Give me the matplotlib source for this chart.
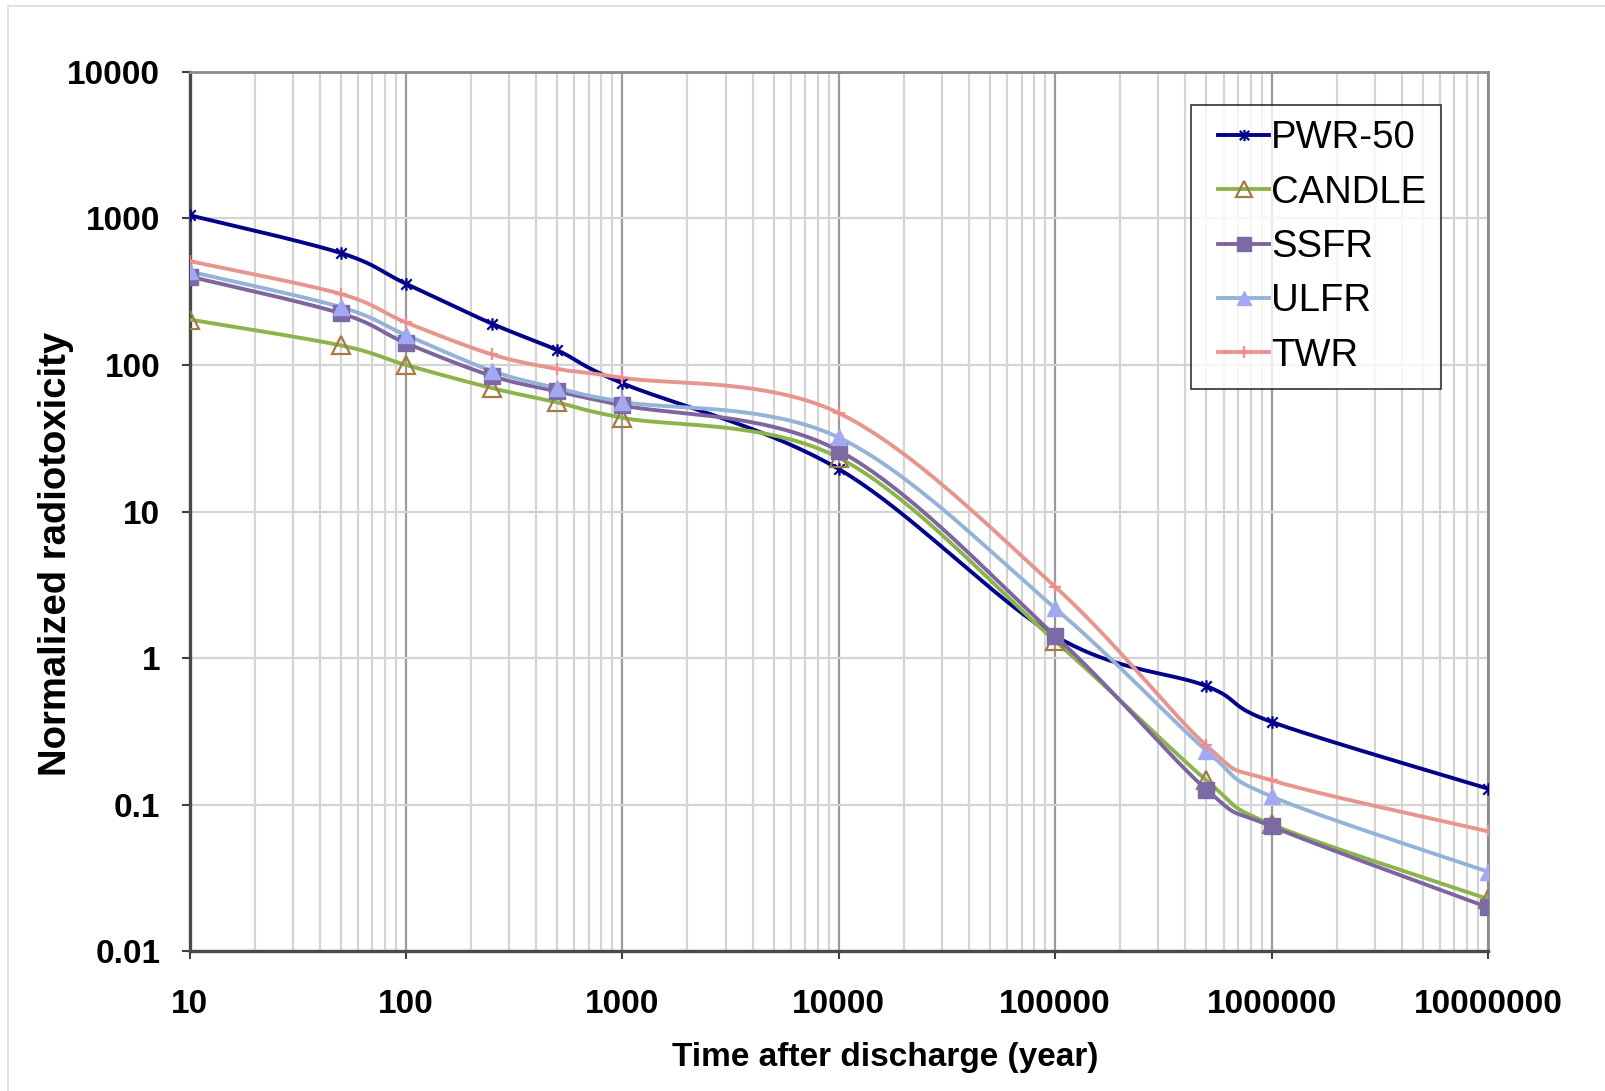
"""
Normalized radiotoxicity of discharged fuel versus time after discharge,
for five reactor concepts (Excel-style smoothed log-log line chart).
"""

import numpy as np
import matplotlib
matplotlib.use("Agg")
import matplotlib.pyplot as plt
from matplotlib.path import Path
from matplotlib.lines import Line2D
from matplotlib.legend_handler import HandlerLine2D

# ---- data ----
years = [10, 50, 100, 250, 500, 1000, 10000, 100000, 500000, 1000000, 10000000]

pwr50 = [1050, 580, 358, 191, 126, 75, 19.5, 1.42, 0.645, 0.368, 0.129]
candle = [204, 136, 100, 69.5, 55.5, 43.6, 23.3, 1.31, 0.147, 0.0736, 0.0228]
ssfr = [401, 225, 141, 84, 66, 53, 26, 1.42, 0.127, 0.0713, 0.020]
ulfr = [434, 248, 160, 91, 69.5, 56, 32, 2.19, 0.234, 0.114, 0.035]
twr = [511, 305, 195, 118, 94, 81.7, 47, 3.07, 0.254, 0.147, 0.066]

series_names = ["PWR-50", "CANDLE", "SSFR", "ULFR", "TWR"]

x_ticks = [10, 100, 1000, 10000, 100000, 1000000, 10000000]
y_ticks = [0.01, 0.1, 1, 10, 100, 1000, 10000]


def smooth_loglog(x, y, n=40):
    """Excel-like smoothed line: Catmull-Rom Bezier through points in log space."""
    lx, ly = np.log10(x), np.log10(y)
    P = np.column_stack([lx, ly])
    pts = []
    t = np.linspace(0, 1, n)
    for i in range(len(P) - 1):
        p0 = P[i - 1] if i > 0 else P[i]
        p1, p2 = P[i], P[i + 1]
        p3 = P[i + 2] if i + 2 < len(P) else P[i + 1]
        c1 = p1 + (p2 - p0) / 6.0
        c2 = p2 - (p3 - p1) / 6.0
        seg = ((1 - t) ** 3)[:, None] * p1 + (3 * (1 - t) ** 2 * t)[:, None] * c1 \
            + (3 * (1 - t) * t ** 2)[:, None] * c2 + (t ** 3)[:, None] * p2
        pts.append(seg if i == 0 else seg[1:])
    pts = np.vstack(pts)
    return 10 ** pts[:, 0], 10 ** pts[:, 1]


class IndentedLineHandler(HandlerLine2D):
    """Legend line that starts a bit in from the box edge, like Excel's."""

    def __init__(self, indent=0.2, **kw):
        super().__init__(**kw)
        self.indent = indent

    def get_xdata(self, legend, xdescent, ydescent, width, height, fontsize):
        x0 = -xdescent + width * self.indent
        x1 = -xdescent + width
        return np.array([x0, x1]), np.array([(x0 + x1) / 2])


# Excel "star" marker: an x with a vertical bar
star = Path([(-1, -1), (1, 1), (-1, 1), (1, -1), (0, -1.2), (0, 1.2)],
            [Path.MOVETO, Path.LINETO, Path.MOVETO, Path.LINETO, Path.MOVETO, Path.LINETO])

styles = [
    dict(color="#00038A", marker=star, ms=9, mfc="#00038A", mec="#00038A", mew=1.6),
    dict(color="#8DB44B", marker="^", ms=13, mfc="none", mec="#A57A45", mew=1.6),
    dict(color="#7E65A0", marker="s", ms=11, mfc="#7C6AA6", mec="#7C6AA6", mew=1.0),
    dict(color="#95B3D7", marker="^", ms=11, mfc="#A3A8F2", mec="#A3A8F2", mew=1.0),
    dict(color="#E6958F", marker="+", ms=9, mfc="#F08C8C", mec="#F08C8C", mew=1.6),
]

plt.rcParams["font.family"] = ["Liberation Sans", "DejaVu Sans"]

fig = plt.figure(figsize=(16.06, 10.91), dpi=100)
ax = fig.add_axes([0.118, 0.1279, 0.8085, 0.8064])

all_series = [pwr50, candle, ssfr, ulfr, twr]
handles = []
for name, vals, st in zip(series_names, all_series, styles):
    sx, sy = smooth_loglog(years, vals)
    ax.plot(sx, sy, color=st["color"], lw=2.8, zorder=3)
    ax.plot(years, vals, ls="none", marker=st["marker"], ms=st["ms"],
            mfc=st["mfc"], mec=st["mec"], mew=st["mew"], zorder=4)
    handles.append(Line2D([], [], color=st["color"], lw=2.8, marker=st["marker"],
                          ms=st["ms"] * 0.9, mfc=st["mfc"], mec=st["mec"],
                          mew=st["mew"], label=name))

ax.set_xscale("log")
ax.set_yscale("log")
ax.set_xlim(10, 1e7)
ax.set_ylim(0.01, 10000)

ax.set_xticks(x_ticks)
ax.set_xticklabels([str(v) for v in x_ticks])
ax.set_yticks(y_ticks)
ax.set_yticklabels(["0.01", "0.1", "1", "10", "100", "1000", "10000"])
ax.yaxis.set_minor_locator(matplotlib.ticker.NullLocator())

for lab in ax.get_xticklabels() + ax.get_yticklabels():
    lab.set_fontweight("bold")
ax.tick_params(axis="both", which="major", labelsize=24, length=6, width=1.5,
               color="#404040", direction="out")
ax.tick_params(axis="x", which="major", pad=21)
ax.tick_params(axis="y", which="major", pad=15)
ax.tick_params(axis="x", which="minor", length=0)

# gridlines: darker major verticals, light minor verticals, light horizontals
ax.grid(True, axis="x", which="major", color="#9A9A9A", lw=1.6, zorder=1)
ax.grid(True, axis="x", which="minor", color="#D4D4D4", lw=1.6, zorder=1)
ax.grid(True, axis="y", which="major", color="#D4D4D4", lw=1.6, zorder=1)

for side in ["top", "right"]:
    ax.spines[side].set_color("#8C8C8C")
    ax.spines[side].set_linewidth(2)
for side in ["left", "bottom"]:
    ax.spines[side].set_color("#4A4A4A")
    ax.spines[side].set_linewidth(2.4)

ax.set_xlabel("Time after discharge (year)", fontsize=24, fontweight="bold")
ax.set_ylabel("Normalized radiotoxicity", fontsize=27.5, fontweight="bold")
ax.xaxis.set_label_coords(0.5356, -0.121)
ax.xaxis.label.set_va("center")
ax.yaxis.set_label_coords(-0.103, 0.452)
ax.yaxis.label.set_va("center")

leg = ax.legend(handles=handles, loc="upper left", bbox_to_anchor=(0.771, 0.962),
                fontsize=27.5, frameon=True, fancybox=False, handlelength=1.65,
                handletextpad=0.05, labelspacing=0.48, borderpad=0.4,
                borderaxespad=0,
                handler_map={Line2D: IndentedLineHandler()})
leg.get_frame().set_edgecolor("black")
leg.get_frame().set_linewidth(1.2)
leg.set_zorder(5)

# faint chart-area border (top and left visible)
fig.add_artist(Line2D([8 / 1606, 1], [1 - 6 / 1091, 1 - 6 / 1091],
                      transform=fig.transFigure, color="#E2E2E2", lw=1.5))
fig.add_artist(Line2D([8 / 1606, 8 / 1606], [0, 1 - 6 / 1091],
                      transform=fig.transFigure, color="#E2E2E2", lw=1.5))

fig.savefig("out.png", dpi=100)
